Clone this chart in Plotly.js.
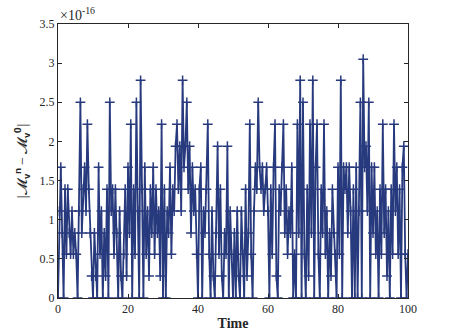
<!DOCTYPE html>
<html>
<head>
<meta charset="utf-8">
<script src="https://cdn.plot.ly/plotly-3.0.1.min.js"></script>
<style>html,body{margin:0;padding:0;background:#fff;}#chart{width:449px;height:336px;}</style>
</head>
<body>
<div id="chart"></div>
<script>
// Time samples
const time = [
0,0.4,0.8,1.2,1.6,2,2.4,2.8,3.2,3.6,4,4.4,4.8,5.2,5.6,6,6.4,6.8,7.2,7.6,8,8.4,8.8,9.2,9.6,
10,10.4,10.8,11.2,11.6,12,12.4,12.8,13.2,13.6,14,14.4,14.8,15.2,15.6,16,16.4,16.8,17.2,17.6,18,18.4,18.8,19.2,19.6,
20,20.4,20.8,21.2,21.6,22,22.4,22.8,23.2,23.6,24,24.4,24.8,25.2,25.6,26,26.4,26.8,27.2,27.6,28,28.4,28.8,29.2,29.6,
30,30.4,30.8,31.2,31.6,32,32.4,32.8,33.2,33.6,34,34.4,34.8,35.2,35.6,36,36.4,36.8,37.2,37.6,38,38.4,38.8,39.2,39.6,
40,40.4,40.8,41.2,41.6,42,42.4,42.8,43.2,43.6,44,44.4,44.8,45.2,45.6,46,46.4,46.8,47.2,47.6,48,48.4,48.8,49.2,49.6,
50,50.4,50.8,51.2,51.6,52,52.4,52.8,53.2,53.6,54,54.4,54.8,55.2,55.6,56,56.4,56.8,57.2,57.6,58,58.4,58.8,59.2,59.6,
60,60.4,60.8,61.2,61.6,62,62.4,62.8,63.2,63.6,64,64.4,64.8,65.2,65.6,66,66.4,66.8,67.2,67.6,68,68.4,68.8,69.2,69.6,
70,70.4,70.8,71.2,71.6,72,72.4,72.8,73.2,73.6,74,74.4,74.8,75.2,75.6,76,76.4,76.8,77.2,77.6,78,78.4,78.8,79.2,79.6,
80,80.4,80.8,81.2,81.6,82,82.4,82.8,83.2,83.6,84,84.4,84.8,85.2,85.6,86,86.4,86.8,87.2,87.6,88,88.4,88.8,89.2,89.6,
90,90.4,90.8,91.2,91.6,92,92.4,92.8,93.2,93.6,94,94.4,94.8,95.2,95.6,96,96.4,96.8,97.2,97.6,98,98.4,98.8,99.2,99.6,100
];
// |M_v^n - M_v^0| in units of 1e-16
const errorVals = [
0,1.11,1.67,0.83,0,1.39,0.56,1.39,0.83,0.56,1.11,0.56,0.83,0.56,0,1.11,2.5,0.83,1.39,1.67,1.11,2.22,1.39,0.83,0.28,
0,0.83,0.28,0,1.67,0.56,1.11,0,0.83,0.28,1.39,0,2.5,1.11,1.39,0.56,1.39,0.83,0,1.11,0.28,0,0.56,1.39,0.28,
1.67,0.83,2.22,0,1.39,0.56,2.5,1.11,0,2.78,1.39,0,1.67,0.56,1.11,0.28,1.39,0.83,1.67,0.56,1.39,0.83,1.11,0.28,2.22,
0,1.39,0,1.11,0.83,1.67,0.56,1.39,1.11,1.94,2.22,1.39,1.94,1.11,2.78,1.67,1.94,2.5,1.39,1.94,0.83,1.67,1.11,1.39,0.56,
0,1.39,1.67,0,1.11,0.83,1.39,2.22,0.56,0,1.11,0.28,0,0.83,1.94,0.56,1.39,0.28,0,0.83,0.56,1.94,0,1.11,0.56,
0,0.83,0,1.11,0.28,0,1.11,0.56,0,1.39,0.28,0.83,2.22,0.56,0,1.11,1.67,1.39,2.5,1.67,1.39,1.67,1.11,1.39,1.67,
1.11,0,1.39,0.56,1.67,2.22,0.28,0,1.39,1.11,1.67,2.22,0.83,1.39,0.56,1.11,0.83,1.67,0,0.56,0,2.22,0.83,2.78,0,
2.5,0.56,0,1.39,0.28,2.22,0.83,2.78,0,1.67,2.22,0.56,0,1.39,0.83,2.22,0.56,1.11,0,0.83,0.28,1.39,0.83,0.56,0,
1.67,0.56,2.78,0,1.67,1.39,1.67,0.83,1.67,1.11,0,1.39,0,1.67,0,1.11,2.5,0,3.05,1.67,1.94,1.11,2.5,0,1.67,
0.83,1.67,0.56,1.11,0,1.39,0.56,2.22,0.83,1.39,0.28,1.11,0,1.39,0.56,2.22,1.11,1.67,0.56,1.39,0,1.67,1.94,0.56,0,0.56
];
const xTicks = [0,20,40,60,80,100];
const yTicks = [0,0.5,1,1.5,2,2.5,3,3.5];
const yTickText = ['0','0.5','1','1.5','2','2.5','3','3.5'];

const serif = 'Liberation Serif, DejaVu Serif, serif';
const lineColor = '#283a7e';

const trace = {
  x: time, y: errorVals, type: 'scatter', mode: 'lines+markers',
  line: {color: lineColor, width: 1.8},
  marker: {symbol: 'cross-thin-open', size: 7, color: lineColor, line: {color: lineColor, width: 1.5}},
  hoverinfo: 'none', showlegend: false
};

const axisCommon = {
  showline: true, linecolor: '#262626', linewidth: 1, mirror: 'ticks',
  ticks: 'inside', ticklen: 4, tickcolor: '#262626', tickwidth: 1,
  showgrid: false, zeroline: false,
  tickfont: {family: serif, size: 12, color: '#262626'}
};

const layout = {
  width: 449, height: 336,
  margin: {l: 58, r: 41, t: 24, b: 38, pad: 0},
  paper_bgcolor: '#fff', plot_bgcolor: '#fff',
  xaxis: Object.assign({}, axisCommon, {
    range: [0, 100], tickvals: xTicks, ticktext: xTicks.map(String),
    title: {text: '<b>Time</b>', font: {family: serif, size: 14, color: '#262626'}, standoff: 2}
  }),
  yaxis: Object.assign({}, axisCommon, {
    range: [0, 3.5], tickvals: yTicks, ticktext: yTickText,
    title: {text: '|𝓜<sub>𝐯</sub><sup>𝐧</sup> − 𝓜<sub>𝐯</sub><sup>𝟎</sup>|', font: {family: serif, size: 14, color: '#262626'}, standoff: 8}
  }),
  annotations: [{
    xref: 'paper', yref: 'paper', x: 0, y: 1, xanchor: 'left', yanchor: 'bottom',
    xshift: 0, yshift: -1,
    text: '×10<sup>-16</sup>', showarrow: false,
    font: {family: serif, size: 14, color: '#262626'}
  }]
};

Plotly.newPlot('chart', [trace], layout, {displayModeBar: false, staticPlot: true});
</script>
</body>
</html>
